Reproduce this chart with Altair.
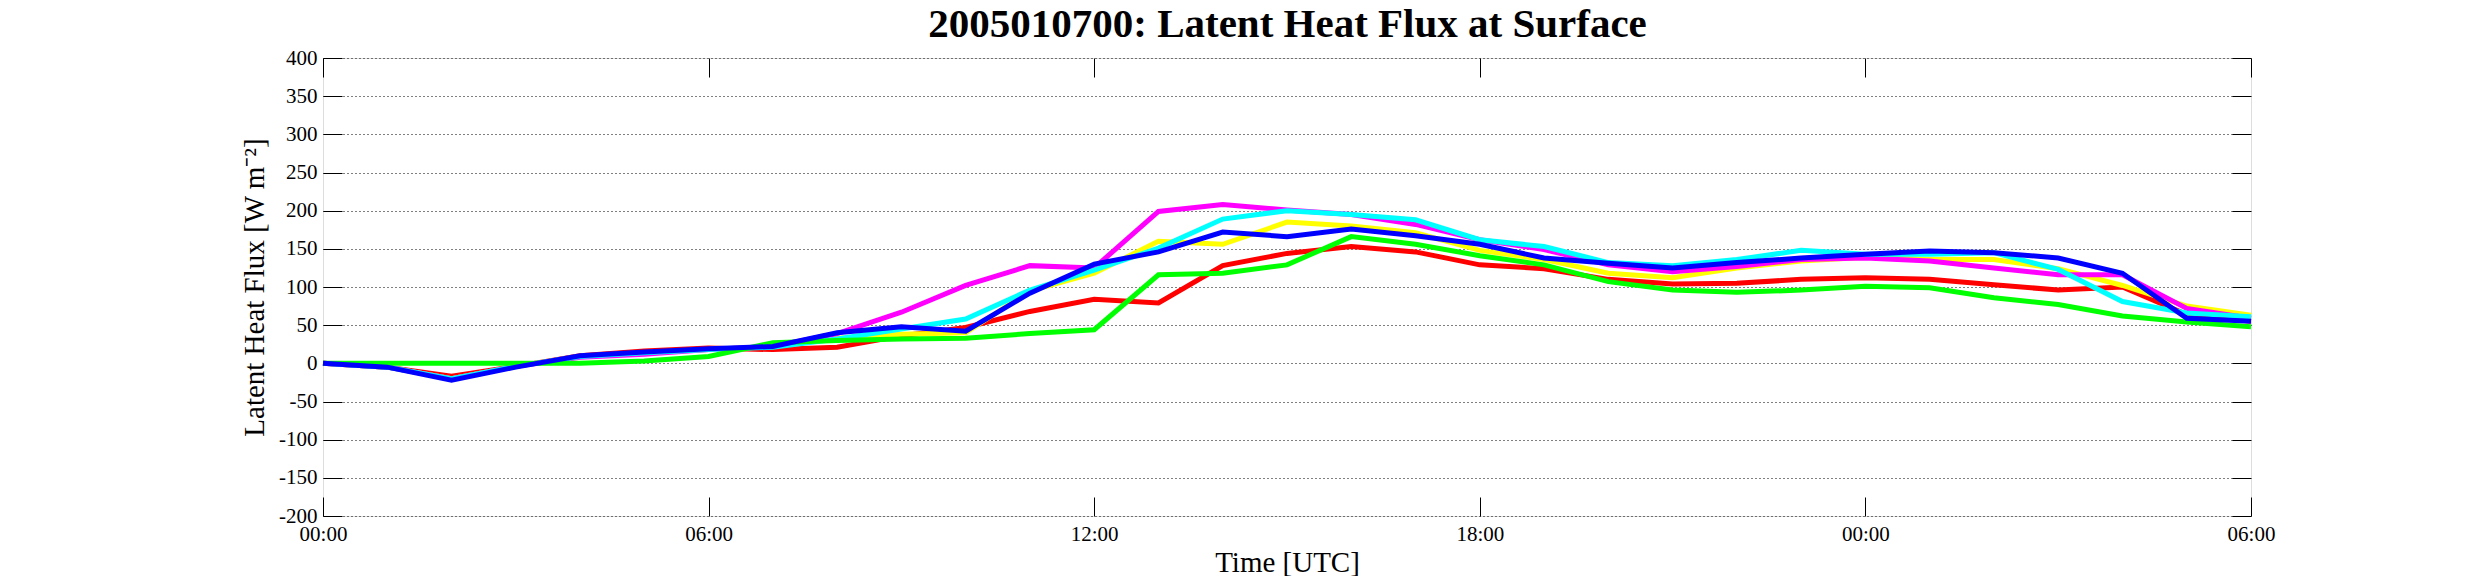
import json
import altair as alt
import pandas as pd

# ---- data (hours since 2005-01-07 00 UTC) ----
hours = [0, 1, 2, 3, 4, 5, 6, 7, 8, 9, 10, 11, 12, 13, 14, 15, 16, 17, 18, 19,
         20, 21, 22, 23, 24, 25, 26, 27, 28, 29, 30]

red = [0, -5, -17, -4, 10, 16, 20, 18, 21, 36, 47, 68, 84, 79, 128, 144, 153, 146,
       129, 124, 110, 104, 105, 110, 112, 110, 103, 96, 100, 64, 55]
yellow = [0, -5, -20, -4, 9, 14, 18, 22, 33, 38, 40, 95, 118, 160, 156, 185, 180, 171,
          148, 136, 118, 112, 125, 134, 139, 136, 136, 124, 102, 75, 63]
magenta = [0, -5, -20, -4, 8, 12, 18, 22, 39, 67, 102, 128, 125, 199, 208, 201, 195, 182,
           162, 149, 129, 120, 127, 136, 138, 134, 125, 116, 116, 72, 59]
cyan = [0, -5, -20, -4, 9, 14, 18, 21, 32, 45, 58, 96, 122, 151, 189, 200, 195, 188,
        162, 153, 132, 128, 136, 148, 143, 143, 145, 123, 81, 66, 61]
green = [0, 0, 0, 0, 0, 3, 9, 27, 30, 32, 33, 39, 44, 116, 118, 129, 166, 156,
         141, 129, 107, 96, 93, 96, 101, 99, 86, 77, 62, 54, 48]
blue = [0, -5, -22, -5, 10, 15, 19, 22, 40, 48, 42, 92, 130, 146, 172, 166, 176, 167,
        156, 138, 131, 125, 132, 138, 143, 147, 145, 138, 118, 59, 55]

series_names = ["red", "yellow", "magenta", "cyan", "green"]
series_values = [red, yellow, magenta, cyan, green]
series_colors = ["#FF0000", "#FFFF00", "#FF00FF", "#00FFFF", "#00FF00"]
blue_color = "#0000FF"

x_tick_values = [0, 6, 12, 18, 24, 30]
x_tick_labels = ["00:00", "06:00", "12:00", "18:00", "00:00", "06:00"]
y_tick_values = [-200, -150, -100, -50, 0, 50, 100, 150, 200, 250, 300, 350, 400]

title_text = "2005010700: Latent Heat Flux at Surface"
x_title = "Time [UTC]"
y_title = "Latent Heat Flux [W m\u207b\u00b2]"

FONT = "Liberation Serif"
TICK = 19

rows = []
for name, vals in zip(series_names, series_values):
    for h, v in zip(hours, vals):
        rows.append({"hour": h, "value": v, "series": name})
df = pd.DataFrame(rows)
df_blue = pd.DataFrame({"hour": hours, "value": blue})

x_label_expr = f"{json.dumps(x_tick_labels)}[indexof({json.dumps(x_tick_values)}, datum.value)]"
x_scale = alt.Scale(domain=[0, 30], nice=False, zero=False)
y_scale = alt.Scale(domain=[-200, 400], nice=False, zero=False)

base_lines = alt.Chart(df).mark_line(strokeWidth=5).encode(
    x=alt.X("hour:Q", scale=x_scale,
            axis=alt.Axis(orient="bottom", values=x_tick_values, labelExpr=x_label_expr,
                          title=x_title, offset=-TICK, tickSize=TICK, tickColor="black",
                          labelPadding=7, titlePadding=4, domain=False, grid=False,
                          labelFont=FONT, labelFontSize=21, labelColor="black",
                          titleFont=FONT, titleFontSize=29, titleFontWeight="normal",
                          titleColor="black", labelFlush=False)),
    y=alt.Y("value:Q", scale=y_scale,
            axis=alt.Axis(orient="left", values=y_tick_values, labelExpr="'' + datum.value",
                          title=y_title, offset=-TICK, tickSize=TICK, tickColor="black",
                          labelPadding=6, titlePadding=9, domain=False, grid=True,
                          gridColor="black", gridDash=[1, 3], gridWidth=1,
                          labelFont=FONT, labelFontSize=21, labelColor="black",
                          titleFont=FONT, titleFontSize=29, titleFontWeight="normal",
                          titleColor="black", labelFlush=False)),
    color=alt.Color("series:N", scale=alt.Scale(domain=series_names, range=series_colors),
                    legend=None),
)

blue_line = alt.Chart(df_blue).mark_line(strokeWidth=5, color=blue_color).encode(
    x=alt.X("hour:Q", scale=x_scale,
            axis=alt.Axis(orient="top", values=x_tick_values, labels=False,
                          title=title_text, titleFont=FONT, titleFontSize=41,
                          titleFontWeight="bold", titleColor="black", titlePadding=12,
                          titleAnchor="middle",
                          offset=-TICK, tickSize=TICK, tickColor="black", domain=False,
                          grid=False)),
    y=alt.Y("value:Q", scale=y_scale,
            axis=alt.Axis(orient="right", values=y_tick_values, labels=False, title=None,
                          offset=-TICK, tickSize=TICK, tickColor="black", domain=False,
                          grid=False)),
)

chart = alt.layer(base_lines, blue_line).resolve_axis(
    x="independent", y="independent"
).properties(
    width=1928,
    height=458,
    padding={"left": 315, "top": 50, "right": 60, "bottom": 60},
    autosize=alt.AutoSizeParams(type="none"),
).configure_view(
    stroke="black", strokeWidth=1
).configure(background="white")

chart.save("out.html", embed_options={"renderer": "svg", "actions": False})
